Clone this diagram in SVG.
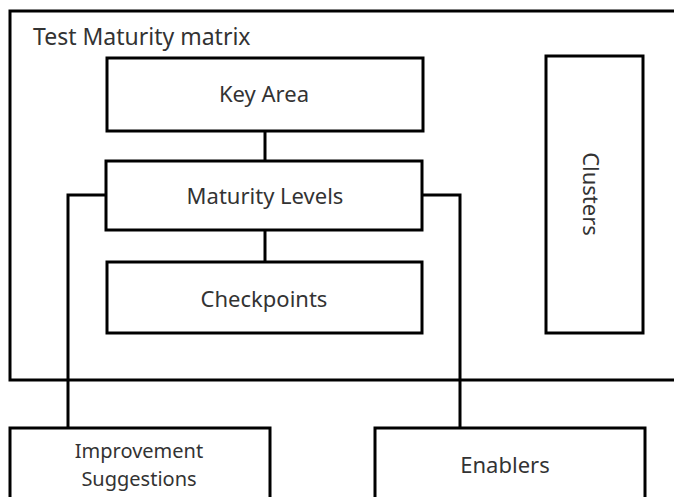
<svg xmlns="http://www.w3.org/2000/svg" width="674" height="497" viewBox="0 0 674 497">
  <style>
    .box { fill: #ffffff; stroke: #000000; stroke-width: 3; }
    .frame { fill: none; stroke: #000000; stroke-width: 3; }
    .wire { fill: none; stroke: #000000; stroke-width: 3; }
    .lbl { font-family: "Noto Sans", "Open Sans", sans-serif; font-size: 22px; fill: #333333; text-anchor: middle; }
    .small { font-size: 20px; }
    .title { font-family: "Noto Sans", "Open Sans", sans-serif; font-size: 23px; fill: #333333; }
  </style>
  <rect width="674" height="497" fill="#ffffff"/>

  <g id="matrix">
    <path class="frame" d="M690 11 H10 V380 H690"/>
    <text class="title" x="33" y="45">Test Maturity matrix</text>
  </g>

  <g id="connectors">
    <line class="wire" x1="265" y1="131" x2="265" y2="161"/>
    <line class="wire" x1="265" y1="230" x2="265" y2="262"/>
    <polyline class="wire" points="107,195 68,195 68,428"/>
    <polyline class="wire" points="422,195 460,195 460,428"/>
  </g>

  <g id="key-area">
    <rect class="box" x="107" y="58" width="316" height="73"/>
    <text class="lbl" x="264" y="102">Key Area</text>
  </g>

  <g id="maturity-levels">
    <rect class="box" x="106" y="161" width="316" height="69"/>
    <text class="lbl" x="265" y="204">Maturity Levels</text>
  </g>

  <g id="checkpoints">
    <rect class="box" x="107" y="262" width="315" height="71"/>
    <text class="lbl" x="264" y="307">Checkpoints</text>
  </g>

  <g id="clusters">
    <rect class="box" x="546" y="56" width="97" height="277"/>
    <text class="lbl" transform="translate(583 194) rotate(90)">Clusters</text>
  </g>

  <g id="improvement-suggestions">
    <rect class="box" x="10" y="428" width="260" height="80"/>
    <text class="lbl small" x="139" y="458">Improvement</text>
    <text class="lbl small" x="139" y="486">Suggestions</text>
  </g>

  <g id="enablers">
    <rect class="box" x="375" y="428" width="270" height="80"/>
    <text class="lbl" x="505" y="473">Enablers</text>
  </g>
</svg>
